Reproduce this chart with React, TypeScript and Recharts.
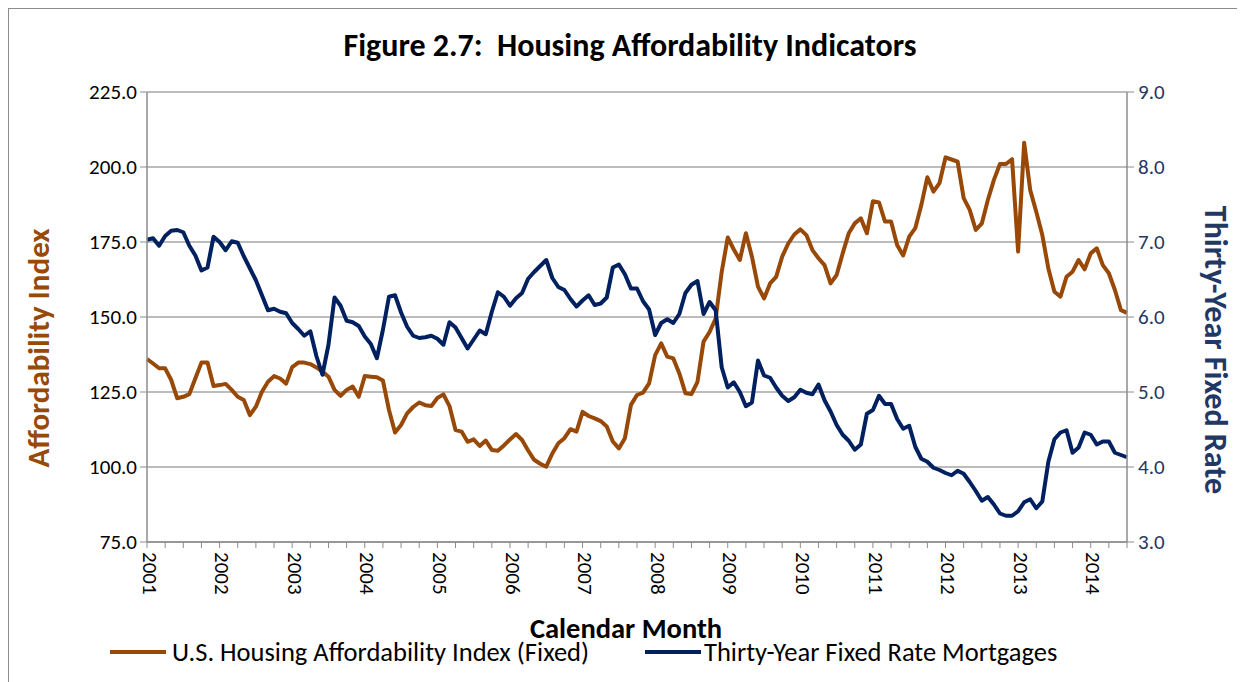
import { LineChart, Line, XAxis, YAxis, CartesianGrid } from "recharts";

const FONT = "Carlito, Lato, sans-serif";
const ORANGE = "#984807";
const NAVY = "#002060";
const NAVY_TEXT = "#1F3864";
const GRID = "#a6a6a6";
const AXIS = "#8c8c8c";

const years = [2001, 2002, 2003, 2004, 2005, 2006, 2007, 2008, 2009, 2010, 2011, 2012, 2013, 2014];
const monthCodes = ["01", "02", "03", "04", "05", "06", "07", "08", "09", "10", "11", "12"];

// U.S. Housing Affordability Index (Fixed), monthly Jan 2001 - Jul 2014
const affordability = [
  136, 134.5, 132.9, 132.9, 129, 122.9, 123.4, 124.3, 129.6, 134.8, 134.8, 127, // 2001
  127.3, 127.7, 125.7, 123.4, 122.3, 117.3, 120.1, 125.1, 128.4, 130.3, 129.5, 127.8, // 2002
  133.3, 134.8, 134.8, 134.3, 133.2, 131.8, 130.1, 125.7, 123.7, 125.7, 126.8, 123.4, // 2003
  130.3, 130.1, 129.9, 128.8, 119, 111.5, 114, 117.9, 120, 121.5, 120.6, 120.3, // 2004
  123, 124.2, 120.3, 112.3, 111.8, 108.4, 109.2, 107, 108.8, 105.7, 105.4, 107.2, // 2005
  109.2, 111, 109, 105.5, 102.4, 101.1, 100.1, 104.5, 107.9, 109.6, 112.6, 111.8, // 2006
  118.4, 117, 116.2, 115.3, 113.5, 108.5, 106.2, 109.6, 120.7, 124, 124.8, 127.9, // 2007
  137.3, 141.2, 136.8, 136.2, 131.2, 124.6, 124.3, 128.4, 141.8, 145, 149.5, 165, // 2008
  176.5, 172.5, 169, 177.9, 170.1, 160.1, 156.2, 161.2, 163.4, 170.1, 174.5, 177.5, // 2009
  179.2, 177.3, 172.3, 169.6, 167.3, 161.2, 164, 171.2, 177.9, 181.2, 182.9, 177.9, // 2010
  188.6, 188.2, 181.8, 181.8, 174, 170.5, 176.8, 179.6, 187.3, 196.6, 191.8, 194.6, // 2011
  203.2, 202.5, 201.8, 189.6, 185.7, 179, 181.2, 189, 195.7, 201, 201, 202.6, // 2012
  171.8, 208.1, 192.3, 185.1, 177.3, 166.2, 158.4, 156.8, 163.4, 165.1, 169, 165.9, // 2013
  171.2, 172.9, 167.3, 164.6, 159, 152.3, 151.4, // 2014
];

// Thirty-year fixed rate mortgages (%), monthly Jan 2001 - Jul 2014
const mortgageRate = [
  7.03, 7.05, 6.95, 7.08, 7.15, 7.16, 7.13, 6.95, 6.82, 6.62, 6.66, 7.07, // 2001
  7.0, 6.89, 7.01, 6.99, 6.81, 6.65, 6.49, 6.29, 6.09, 6.11, 6.07, 6.05, // 2002
  5.92, 5.84, 5.75, 5.81, 5.48, 5.23, 5.63, 6.26, 6.15, 5.95, 5.93, 5.88, // 2003
  5.74, 5.64, 5.45, 5.83, 6.27, 6.29, 6.06, 5.87, 5.75, 5.72, 5.73, 5.75, // 2004
  5.71, 5.63, 5.93, 5.86, 5.72, 5.58, 5.7, 5.82, 5.77, 6.07, 6.33, 6.27, // 2005
  6.15, 6.25, 6.32, 6.51, 6.6, 6.68, 6.76, 6.52, 6.4, 6.36, 6.24, 6.14, // 2006
  6.22, 6.29, 6.16, 6.18, 6.26, 6.66, 6.7, 6.57, 6.38, 6.38, 6.21, 6.1, // 2007
  5.76, 5.92, 5.97, 5.92, 6.04, 6.32, 6.43, 6.48, 6.04, 6.2, 6.09, 5.33, // 2008
  5.06, 5.13, 5.0, 4.81, 4.86, 5.42, 5.22, 5.19, 5.06, 4.95, 4.88, 4.93, // 2009
  5.03, 4.99, 4.97, 5.1, 4.89, 4.74, 4.56, 4.43, 4.35, 4.23, 4.3, 4.71, // 2010
  4.76, 4.95, 4.84, 4.84, 4.64, 4.51, 4.55, 4.27, 4.11, 4.07, 3.99, 3.96, // 2011
  3.92, 3.89, 3.95, 3.91, 3.8, 3.68, 3.55, 3.6, 3.5, 3.38, 3.35, 3.35, // 2012
  3.41, 3.53, 3.57, 3.45, 3.54, 4.07, 4.37, 4.46, 4.49, 4.19, 4.26, 4.46, // 2013
  4.43, 4.3, 4.34, 4.34, 4.19, 4.16, 4.13, // 2014
];

const leftTicks = [75, 100, 125, 150, 175, 200, 225];
const rightTicks = [3, 4, 5, 6, 7, 8, 9];

const months = years
  .flatMap((y) => monthCodes.map((m) => `${y}-${m}`))
  .slice(0, affordability.length);

const data = months.map((month, i) => ({
  month,
  affordability: affordability[i],
  rate: mortgageRate[i],
}));

// tick marks every quarter, labels on January only
const quarterTicks = months.filter((_, i) => i % 3 === 0);

function YearTick(props: any) {
  const { x, y, payload } = props;
  const value: string = payload.value;
  if (!value.endsWith("-01")) return null;
  return (
    <g transform={`translate(${x + 3},${y + 2})`}>
      <text
        transform="rotate(90)"
        x={0}
        y={0}
        dy="0.35em"
        textAnchor="start"
        fill="#000"
        fontSize={21}
        fontFamily={FONT}
      >
        {value.slice(0, 4)}
      </text>
    </g>
  );
}

const legendText = {
  position: "absolute" as const,
  top: 643,
  transform: "translateY(-50%)",
  whiteSpace: "nowrap" as const,
  fontSize: 26.5,
  color: "#000",
};

export default function App() {
  return (
    <div
      style={{
        position: "relative",
        width: 1230,
        height: 690,
        border: `1px solid ${AXIS}`,
        fontFamily: FONT,
        background: "#fff",
      }}
    >
      <div
        style={{
          position: "absolute",
          left: 621,
          top: 36,
          transform: "translate(-50%, -50%)",
          whiteSpace: "pre",
          fontSize: 32,
          fontWeight: 700,
          color: "#000",
        }}
      >
        {"Figure 2.7:  Housing Affordability Indicators"}
      </div>

      <LineChart
        width={1230}
        height={680}
        data={data}
        margin={{ top: 83, right: 52, bottom: 87, left: 78 }}
      >
        <CartesianGrid yAxisId="left" vertical={false} stroke={GRID} strokeWidth={1.5} />
        <XAxis
          dataKey="month"
          ticks={quarterTicks}
          interval={0}
          tick={<YearTick />}
          tickSize={6}
          tickLine={{ stroke: AXIS }}
          axisLine={{ stroke: AXIS, strokeWidth: 1.5 }}
          height={60}
        />
        <YAxis
          yAxisId="left"
          domain={[75, 225]}
          ticks={leftTicks}
          width={60}
          tickSize={7}
          tickMargin={3}
          tickFormatter={(v: number) => v.toFixed(1)}
          tick={{ fill: "#000", fontSize: 21, fontFamily: FONT }}
          tickLine={{ stroke: AXIS }}
          axisLine={{ stroke: AXIS, strokeWidth: 1.5 }}
        />
        <YAxis
          yAxisId="right"
          orientation="right"
          domain={[3, 9]}
          ticks={rightTicks}
          width={60}
          tickSize={7}
          tickMargin={4}
          tickFormatter={(v: number) => v.toFixed(1)}
          tick={{ fill: NAVY_TEXT, fontSize: 21, fontFamily: FONT }}
          tickLine={{ stroke: AXIS }}
          axisLine={{ stroke: AXIS, strokeWidth: 1.5 }}
        />
        <Line
          yAxisId="left"
          type="linear"
          dataKey="affordability"
          stroke={ORANGE}
          strokeWidth={4}
          strokeLinejoin="round"
          dot={false}
          isAnimationActive={false}
        />
        <Line
          yAxisId="right"
          type="linear"
          dataKey="rate"
          stroke={NAVY}
          strokeWidth={4}
          strokeLinejoin="round"
          dot={false}
          isAnimationActive={false}
        />
      </LineChart>

      <div
        style={{
          position: "absolute",
          left: 29,
          top: 339,
          transform: "translate(-50%, -50%) rotate(-90deg)",
          whiteSpace: "nowrap",
          fontSize: 31,
          fontWeight: 700,
          color: ORANGE,
        }}
      >
        Affordability Index
      </div>
      <div
        style={{
          position: "absolute",
          left: 1206,
          top: 341,
          transform: "translate(-50%, -50%) rotate(90deg)",
          whiteSpace: "nowrap",
          fontSize: 32,
          fontWeight: 700,
          color: NAVY_TEXT,
        }}
      >
        Thirty-Year Fixed Rate
      </div>
      <div
        style={{
          position: "absolute",
          left: 617,
          top: 619,
          transform: "translate(-50%, -50%)",
          whiteSpace: "nowrap",
          fontSize: 28.5,
          fontWeight: 700,
          color: "#000",
        }}
      >
        Calendar Month
      </div>

      <span style={{ position: "absolute", left: 101, top: 641, width: 56, height: 4, background: ORANGE }} />
      <div style={{ ...legendText, left: 163 }}>U.S. Housing Affordability Index (Fixed)</div>
      <span style={{ position: "absolute", left: 636, top: 641, width: 56, height: 4, background: NAVY }} />
      <div style={{ ...legendText, left: 695 }}>Thirty-Year Fixed Rate Mortgages</div>
    </div>
  );
}
